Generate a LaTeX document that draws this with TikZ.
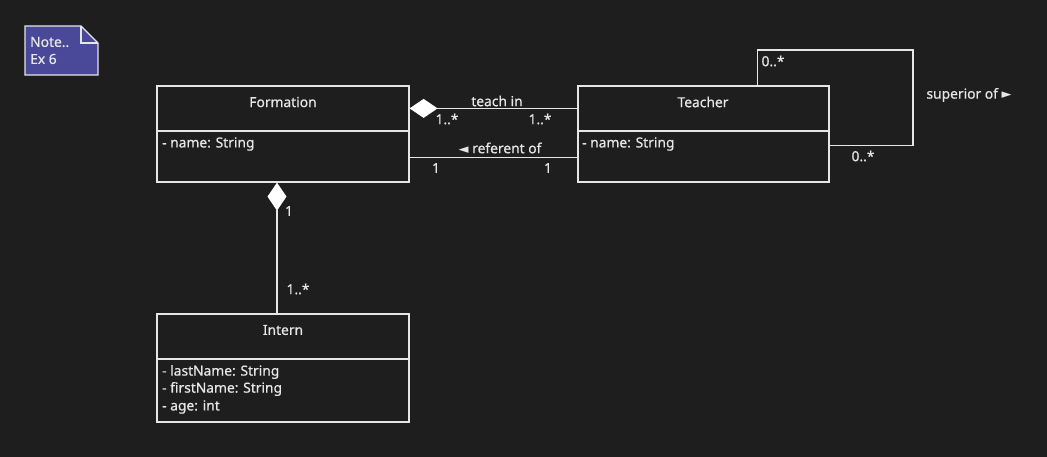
\documentclass[tikz,border=0pt]{standalone}
\usepackage{fontspec}
\setmainfont{Noto Sans}[FakeBold=0.6,UprightFeatures={FakeBold=0.6}]
\newfontfamily\symfont{DejaVu Sans}
\usetikzlibrary{arrows.meta,calc}
\definecolor{bg}{HTML}{1E1E1E}
\definecolor{fg}{HTML}{E6E6E6}
\definecolor{notefill}{HTML}{4A4898}
\tikzset{
  umlclass/.style={draw=fg, line width=1.2pt, minimum width=252pt, inner sep=0pt},
  conn/.style={draw=fg, line width=1.2pt},
  lbl/.style={text=fg, font=\fontsize{13.8}{16}\selectfont, inner sep=0pt},
  attr/.style={lbl, anchor=west},
  comp/.style={{Diamond[length=28pt,width=19pt,fill=white,color=white]}-},
}
\begin{document}
\begin{tikzpicture}[x=1pt,y=-1pt]
\fill[bg] (0,0) rectangle (1047,457);
\useasboundingbox (0,0) rectangle (1047,457);

% note
\filldraw[fill=notefill, draw=fg, line width=1.2pt] (25,26) -- (81,26) -- (98,43) -- (98,75) -- (25,75) -- cycle;
\draw[fg, line width=1.2pt] (81,26) -- (81,43) -- (98,43);
\node[attr] (note1) at (30,42) {Note..};
\node[attr] (note2) at (30,59) {Ex 6};

% classes
\node[umlclass, minimum height=96pt] (Formation) at (283,134) {};
\draw[conn] (157,131) -- (409,131);
\node[lbl] (ftitle) at (283,102) {Formation};
\node[attr] (fattr) at (162,144) {- name: String};

\node[umlclass, minimum height=96pt, minimum width=251pt] (Teacher) at (703.5,134) {};
\draw[conn] (578,131) -- (829,131);
\node[lbl] (ttitle) at (703,102) {Teacher};
\node[attr] (tattr) at (582,144) {- name: String};

\node[umlclass, minimum height=108pt] (Intern) at (283,368) {};
\draw[conn] (157,359) -- (409,359);
\node[lbl] (ititle) at (283,330) {Intern};
\node[attr] (ia1) at (162,372) {- lastName: String};
\node[attr] (ia2) at (162,389) {- firstName: String};
\node[attr] (ia3) at (162,407) {- age: int};

% teach in
\draw[conn, comp] ($(Formation.north east)+(0,23)$) -- ($(Teacher.north west)+(0,23)$);
\node[lbl] (teachin) at (497,101) {teach in};
\node[lbl] (m1) at (447,119) {1..*};
\node[lbl] (m2) at (540,119) {1..*};

% referent of
\draw[conn] ($(Formation.north east)+(0,72)$) -- ($(Teacher.north west)+(0,72)$);
\node[lbl] (refof) at (500,148) {{\symfont\fontsize{13}{13}\selectfont ◄} referent of};
\node[lbl] (m3) at (436,168) {1};
\node[lbl] (m4) at (548,168) {1};

% superior of (self loop)
\coordinate (loopTR) at (913,50);
\draw[conn] ($(Teacher.north east)+(-72,0)$) |- (loopTR) |- ($(Teacher.north east)+(0,60)$);
\node[lbl] (m5) at (773,61) {0..*};
\node[lbl] (m6) at (863,156) {0..*};
\node[lbl] (supof) at (969,95) {superior of {\symfont\fontsize{13}{13}\selectfont ►}};

% composition Formation - Intern
\draw[conn, comp] ($(Formation.south)+(-6,0)$) -- ($(Intern.north)+(-6,0)$);
\node[lbl] (m7) at (289,211) {1};
\node[lbl] (m8) at (298,289) {1..*};
\end{tikzpicture}
\end{document}
